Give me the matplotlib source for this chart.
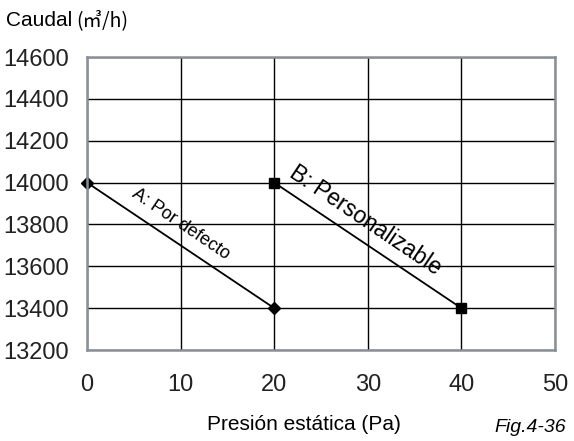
#Curva caudal vs presion estatica
import matplotlib.pyplot as plt

#datos de las curvas
presion_a = [0, 20]
caudal_a = [14000, 13400]
presion_b = [20, 40]
caudal_b = [14000, 13400]

x_ticks = [0, 10, 20, 30, 40, 50]
y_ticks = [13200, 13400, 13600, 13800, 14000, 14200, 14400, 14600]

fig = plt.figure(figsize=(5.74, 4.41), dpi=100)
#area del grafico en pixeles: izquierda 87, derecha 555, arriba 57, abajo 350
ax = fig.add_axes([87/574, 1 - 350/441, (555-87)/574, (350-57)/441])

ax.plot(presion_a, caudal_a, color='black', lw=1.3, marker='D', ms=6, zorder=3, clip_on=False)
ax.plot(presion_b, caudal_b, color='black', lw=1.3, marker='s', ms=6.5, zorder=3, clip_on=False)

ax.set_xlim(0, 50)
ax.set_ylim(13200, 14600)
ax.set_xticks(x_ticks)
ax.set_yticks(y_ticks)
ax.grid(True, color='black', lw=1.0)
ax.tick_params(length=0, labelsize=17, labelcolor='#222222')
ax.tick_params(axis='y', pad=13)
ax.tick_params(axis='x', pad=17)
for lab in ax.get_xticklabels() + ax.get_yticklabels():
    lab.set_fontfamily('Liberation Sans')
for s in ax.spines.values():
    s.set_color('#8a9096')
    s.set_linewidth(1.8)
    s.set_zorder(4)

#etiquetas de las curvas
ax.text(10.0, 13800, 'A: Por defecto', rotation=-34, ha='center', va='center',
        fontsize=13, family='Liberation Sans', rotation_mode='anchor')
ax.text(29.7, 13820, 'B: Personalizable', rotation=-34, ha='center', va='center',
        fontsize=16.5, family='Liberation Sans', rotation_mode='anchor')

#titulos
fig.text(6/574, 1 - 21/441, 'Caudal', fontsize=15, family='Liberation Sans', va='center')
fig.text(76/574, 1 - 21/441, '(㎥/h)', fontsize=14, family=['Noto Sans CJK JP', 'DejaVu Sans'], va='center')
fig.text(304/574, 1 - 424/441, 'Presión estática (Pa)', fontsize=15, family='Liberation Sans',
         ha='center', va='center')
fig.text(566/574, 1 - 427/441, 'Fig.4-36', fontsize=14, family='Liberation Sans', style='italic',
         ha='right', va='center')

fig.savefig('out.png', dpi=100)
